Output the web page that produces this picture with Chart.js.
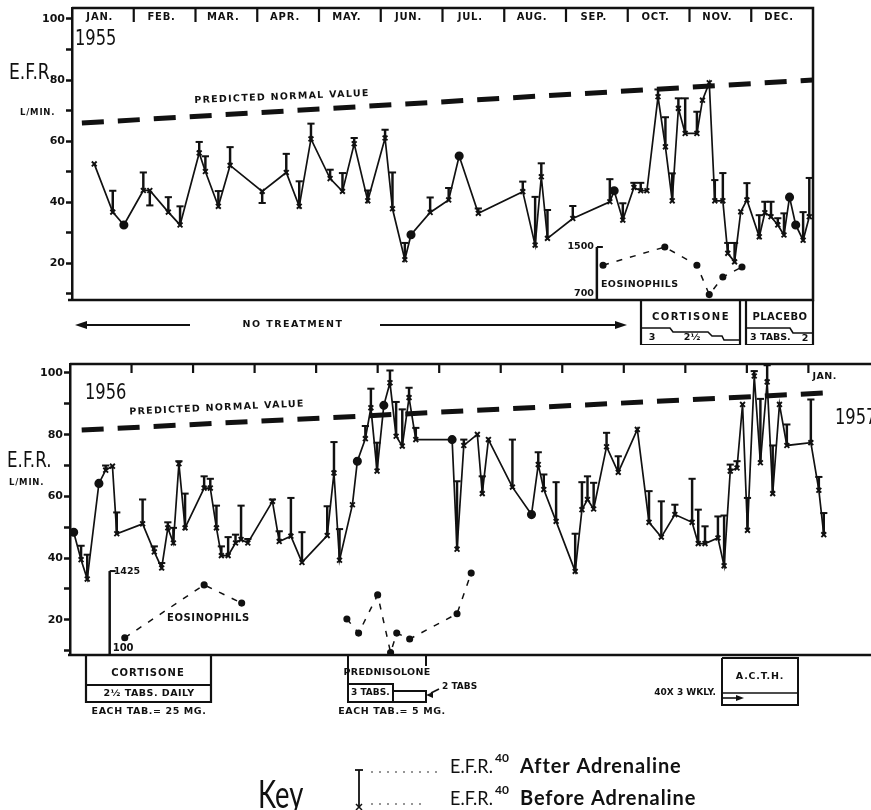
<!DOCTYPE html>
<html>
<head>
<meta charset="utf-8">
<script src="https://cdn.jsdelivr.net/npm/chart.js@4.4.0/dist/chart.umd.min.js"></script>
<style>
  html, body { margin: 0; padding: 0; background: #fff; }
  #wrap { position: relative; width: 871px; height: 810px; overflow: hidden; }
  canvas { position: absolute; left: 0; }
  #c55 { top: 0; }
  #c56 { top: 345px; }
</style>
</head>
<body>
<div id="wrap">
  <canvas id="c55" width="871" height="345"></canvas>
  <canvas id="c56" width="871" height="465"></canvas>
</div>
<script>
// --- data (x = months from 1 Jan of the panel's year, y = E.F.R. l/min) ---
const monthNames = ['JAN.', 'FEB.', 'MAR.', 'APR.', 'MAY.', 'JUN.', 'JUL.', 'AUG.', 'SEP.', 'OCT.', 'NOV.', 'DEC.'];
const efrTicks = [10, 20, 30, 40, 50, 60, 70, 80, 90, 100];

// 1955
const months55 = [0.36, 0.66, 0.84, 1.155, 1.26, 1.56, 1.75, 2.06, 2.16, 2.37, 2.56, 3.08, 3.47, 3.68, 3.87, 4.18, 4.38, 4.57, 4.79, 5.07,
  5.19, 5.39, 5.49, 5.80, 6.10, 6.27, 6.58, 7.30, 7.50, 7.60, 7.70, 8.11, 8.71, 8.78, 8.92, 9.10, 9.21, 9.31, 9.49, 9.61,
  9.72, 9.82, 9.93, 10.12, 10.21, 10.32, 10.41, 10.54, 10.62, 10.73, 10.83, 10.93, 11.13, 11.22, 11.32, 11.43, 11.53, 11.62, 11.72, 11.84, 11.94];
const before55 = [52.5, 36.7, 32.5, 43.8, 43.8, 36.7, 32.5, 56.1, 50, 38.6, 52, 43.5, 49.7, 38.6, 60.7, 47.7, 43.5, 59.1, 40.4, 61,
  37.8, 21.1, 29.3, 36.6, 40.7, 55.1, 36.3, 43.4, 25.9, 48.3, 28.1, 34.6, 40.1, 43.7, 34.1, 44.8, 43.7, 43.7, 74.5, 58.1,
  40.4, 70.7, 62.5, 62.5, 73.4, 79.1, 40.4, 40.4, 23.2, 20.4, 36.8, 40.7, 28.6, 36.5, 35.2, 32.5, 29.2, 41.6, 32.5, 27.5, 35.2];
const after55 = [null, 43.7, null, 49.7, 38.9, 41.6, 38.6, 59.7, 55, 43.6, 58, 39.7, 55.8, 46.8, 65.7, 50.6, 49.5, 61, 43.8, 63.7,
  49.7, 26.6, null, 41.5, 44.6, null, 37.9, 46.7, 41.7, 52.7, 37.4, 38.7, 47.5, null, 39.6, 46.3, 46.3, null, 76.9, 67.8,
  49.4, 74, 74, 69.6, null, null, 47.2, 49.5, 26.6, 26.6, null, 46.2, 35.7, 40.1, 40.1, 34.7, 36.3, null, null, 36.7, 47.9];
const dots55 = [2, 22, 25, 33, 57, 58];
const normMonths55 = [0.16, 12];
const norm55 = [65.9, 80];
const eosMonths55 = [8.60, 9.60, 10.12, 10.32, 10.54, 10.85];
const eos55 = [1190, 1500, 1190, 690, 990, 1160];

// 1956
const months56 = [0.06, 0.18, 0.28, 0.47, 0.58, 0.69, 0.76, 1.18, 1.37, 1.49, 1.59, 1.68, 1.77, 1.87, 2.18, 2.28, 2.38, 2.46, 2.57, 2.69,
  2.78, 2.89, 3.29, 3.40, 3.59, 3.77, 4.18, 4.29, 4.38, 4.59, 4.67, 4.80, 4.89, 4.99, 5.10, 5.20, 5.30, 5.40, 5.51, 5.62,
  6.21, 6.29, 6.40, 6.62, 6.70, 6.80, 7.19, 7.50, 7.61, 7.70, 7.90, 8.21, 8.32, 8.41, 8.51, 8.72, 8.91, 9.22, 9.41, 9.61,
  9.83, 10.11, 10.21, 10.32, 10.53, 10.63, 10.73, 10.84, 10.93, 11.01, 11.12, 11.22, 11.33, 11.42, 11.53, 11.65, 12.04, 12.17, 12.25];
const before56 = [48.4, 39.5, 33.2, 64.2, 68.5, 69.8, 47.9, 51.1, 42.0, 36.8, 49.8, 44.9, 70.6, 49.8, 62.7, 62.7, 49.8, 40.8, 40.8, 44.9,
  46.0, 44.9, 58.4, 45.4, 47.1, 38.6, 47.3, 67.6, 39.3, 57.3, 71.4, 78.7, 88.7, 68.2, 89.5, 96.8, 79.5, 76.3, 92.0, 78.4,
  78.4, 42.9, 76.5, 80.1, 60.9, 78.4, 63, 54.1, 70.3, 62.2, 51.9, 35.7, 55.7, 59, 55.9, 76.1, 67.8, 81.7, 51.6, 46.8,
  54.1, 51.6, 44.7, 44.7, 46.5, 37.5, 68.2, 69.2, 89.8, 49, 99, 70.9, 97.1, 60.9, 89.8, 76.5, 77.4, 62, 47.6];
const after56 = [null, 44.0, 41.1, null, 70, null, 54.8, 59, 43.8, 38.4, 51.6, 49.8, 71.4, 60.9, 66.5, 65.7, 57, 43.8, 46.8, 47.6,
  57, 46.2, 59, 48.7, 59.5, 48.4, 56.8, 77.6, 49.4, null, null, 82.8, 94.9, 77.4, null, 100.8, 90.6, 88.2, 95.2, 82.2,
  null, 64.9, 78.4, null, 66.5, null, 78.4, null, 74.3, 67.1, 64.6, 47.9, 64.6, 66.5, 64.4, 80.6, 73, null, 61.7, 58.4,
  57.3, 65.7, 55.7, 50.3, 53.5, 53.8, 70.3, 71.4, null, 59.5, 100.6, 91.6, 102.5, 76.5, null, 83.3, 91.4, 66.3, 54.6];
const dots56 = [0, 3, 30, 34, 40, 47];
const normMonths56 = [0.19, 12.45];
const norm56 = [81.5, 93.7];
const eosMonths56a = [0.89, 2.18, 2.79];
const eos56a = [290, 1190, 880];
const eosMonths56b = [4.50, 4.69, 5.00, 5.21, 5.31, 5.52, 6.29, 6.52];
const eos56b = [610, 370, 1020, 40, 370, 270, 700, 1390];

const ink = '#111';
const bold = (s) => `bold ${s}px "DejaVu Sans"`;

// --- drawing helpers ---
function path(ctx, pts, w) {
  ctx.lineWidth = w;
  ctx.beginPath();
  pts.forEach(([px, py], i) => (i ? ctx.lineTo(px, py) : ctx.moveTo(px, py)));
  ctx.stroke();
}

function write(ctx, s, px, py, font, align = 'center', opt = {}) {
  ctx.save();
  ctx.translate(px, py);
  if (opt.rot) ctx.rotate(opt.rot * Math.PI / 180);
  ctx.scale(opt.sx || 1, 1);
  ctx.font = font;
  ctx.letterSpacing = (opt.ls || 0) + 'px';
  ctx.textAlign = align;
  ctx.textBaseline = opt.base || 'middle';
  ctx.fillText(s, 0, 0);
  ctx.restore();
}

function head(ctx, px, py, dir, len = 12, half = 4) {
  ctx.beginPath();
  ctx.moveTo(px, py);
  ctx.lineTo(px - dir * len, py - half);
  ctx.lineTo(px - dir * len, py + half);
  ctx.closePath();
  ctx.fill();
}

function eosAxis(ctx, x, ye, m, hi, bottom) {
  const px = x.getPixelForValue(m);
  const top = ye.getPixelForValue(hi);
  path(ctx, [[px, top], [px, bottom]], 2.5);
  path(ctx, [[px, top], [px + 6, top]], 2);
  return px;
}

// --- decorations for 1955 panel ---
const deco55 = {
  id: 'deco55',
  afterDraw(chart) {
    const { ctx, chartArea: a, scales } = chart;
    const x = scales.x, ye = scales.yEos;
    ctx.save();
    ctx.strokeStyle = ink;
    ctx.fillStyle = ink;
    path(ctx, [[a.left, a.top], [a.right, a.top], [a.right, a.bottom], [a.left - 4, a.bottom]], 2.5);
    for (let m = 1; m < 12; m++) {
      const px = x.getPixelForValue(m);
      path(ctx, [[px, a.top], [px, a.top + 14]], 2.2);
    }
    monthNames.forEach((n, i) => write(ctx, n, x.getPixelForValue(i + 0.45), a.top + 9, bold(10), 'center', { ls: 0.8 }));

    write(ctx, '1955', 75, 39, '22px "DejaVu Sans"', 'left', { sx: 0.74 });
    write(ctx, 'E.F.R.', 9, 73, '22px "DejaVu Sans"', 'left', { sx: 0.78 });
    write(ctx, 'L/MIN.', 20, 113, bold(8.5), 'left', { ls: 0.8 });
    write(ctx, 'PREDICTED NORMAL VALUE', 282, 97, bold(9.5), 'center', { ls: 1.3, rot: -2.3 });

    const ex = eosAxis(ctx, x, ye, 8.5, 1500, a.bottom);
    write(ctx, '1500', ex - 3, ye.getPixelForValue(1500), bold(9.5), 'right');
    write(ctx, '700', ex - 3, ye.getPixelForValue(700), bold(9.5), 'right');
    write(ctx, 'EOSINOPHILS', ex + 4, 285, bold(9.5), 'left', { ls: 0.5 });

    // no treatment arrow
    path(ctx, [[80, 325], [190, 325]], 2.2);
    path(ctx, [[380, 325], [618, 325]], 2.2);
    head(ctx, 75, 325, -1);
    head(ctx, 627, 325, 1);
    write(ctx, 'NO TREATMENT', 293, 325, bold(9.5), 'center', { ls: 1.5 });

    // cortisone box
    path(ctx, [[641, a.bottom], [641, 345], [740, 345], [740, a.bottom]], 2.2);
    write(ctx, 'CORTISONE', 691, 317, bold(10), 'center', { ls: 1.5 });
    path(ctx, [[641, 328], [670, 328], [673, 332], [708, 332], [712, 336], [722, 336], [724, 340], [740, 340]], 1.6);
    write(ctx, '3', 652, 338, bold(9.5), 'center');
    write(ctx, '2½', 692, 338, bold(9.5), 'center');

    // placebo box
    path(ctx, [[746, a.bottom], [746, 345], [813, 345], [813, a.bottom]], 2.2);
    write(ctx, 'PLACEBO', 780, 317, bold(10), 'center', { ls: 0.5 });
    path(ctx, [[746, 328], [790, 328], [793, 333], [813, 333]], 1.6);
    write(ctx, '3 TABS.', 750, 338, bold(9.5), 'left');
    write(ctx, '2', 805, 339, bold(9.5), 'center');
    ctx.restore();
  }
};

// --- decorations for 1956 panel ---
const deco56 = {
  id: 'deco56',
  afterDraw(chart) {
    const { ctx, chartArea: a, scales } = chart;
    const x = scales.x, ye = scales.yEos;
    ctx.save();
    ctx.strokeStyle = ink;
    ctx.fillStyle = ink;
    path(ctx, [[a.left, a.top], [chart.width, a.top]], 2.5);
    path(ctx, [[a.left - 2, a.bottom], [chart.width, a.bottom]], 2.5);
    for (let m = 1; m <= 12; m++) {
      const px = x.getPixelForValue(m);
      path(ctx, [[px, a.top], [px, a.top + 9]], 2.2);
    }
    write(ctx, 'JAN.', x.getPixelForValue(12) + 4, 32, bold(9.5), 'left', { ls: 0.5 });

    write(ctx, '1956', 85, 48, '22px "DejaVu Sans"', 'left', { sx: 0.74 });
    write(ctx, '1957', 835, 73, '22px "DejaVu Sans"', 'left', { sx: 0.74 });
    write(ctx, 'E.F.R.', 7, 116, '22px "DejaVu Sans"', 'left', { sx: 0.76 });
    write(ctx, 'L/MIN.', 9, 138, bold(8.5), 'left', { ls: 0.8 });
    write(ctx, 'PREDICTED NORMAL VALUE', 217, 63, bold(9.5), 'center', { ls: 1.3, rot: -2.7 });

    const ex = eosAxis(ctx, x, ye, 0.645, 1425, a.bottom);
    write(ctx, '1425', ex + 4, ye.getPixelForValue(1425), bold(9.5), 'left');
    write(ctx, '100', ex + 3, ye.getPixelForValue(100) - 1, bold(10), 'left');
    write(ctx, 'EOSINOPHILS', 167, 273, bold(10), 'left', { ls: 0.6 });

    // cortisone box
    path(ctx, [[86, a.bottom], [86, 357], [211, 357], [211, a.bottom]], 2.2);
    path(ctx, [[86, 340], [211, 340]], 2);
    write(ctx, 'CORTISONE', 148, 328, bold(10), 'center', { ls: 1 });
    write(ctx, '2½ TABS. DAILY', 149, 349, bold(9.5), 'center', { ls: 0.5 });
    write(ctx, 'EACH TAB.= 25 MG.', 149, 367, bold(9.5), 'center', { ls: 0.6 });

    // prednisolone box
    path(ctx, [[348, a.bottom], [348, 357], [426, 357], [426, 346], [393, 346]], 2);
    path(ctx, [[348, 339], [393, 339], [393, 357]], 2);
    path(ctx, [[426, a.bottom], [426, 321]], 2);
    write(ctx, 'PREDNISOLONE', 387, 328, bold(9.5), 'center', { ls: 0.3 });
    write(ctx, '3 TABS.', 351, 348, bold(9), 'left');
    path(ctx, [[439, 344], [431, 348]], 1.8);
    head(ctx, 426, 350, -1, 7, 3);
    write(ctx, '2 TABS', 442, 342, bold(9), 'left');
    write(ctx, 'EACH TAB.= 5 MG.', 392, 367, bold(9.5), 'center', { ls: 0.6 });

    // a.c.t.h. box
    path(ctx, [[722, a.bottom + 3], [722, 360], [798, 360], [798, a.bottom + 3], [722, a.bottom + 3]], 2);
    path(ctx, [[722, 348], [798, 348]], 1.6);
    write(ctx, 'A.C.T.H.', 760, 332, bold(9.5), 'center', { ls: 0.8 });
    write(ctx, '40X 3 WKLY.', 716, 348, bold(9), 'right');
    path(ctx, [[722, 353], [736, 353]], 1.6);
    head(ctx, 744, 353, 1, 8, 3);

    // key
    write(ctx, 'Key', 258, 463, '38px Lato', 'left', { sx: 0.72, base: 'alphabetic' });
    path(ctx, [[359, 425], [359, 462]], 1.8);
    path(ctx, [[355, 425], [363, 425]], 1.8);
    path(ctx, [[356, 459], [362, 465]], 1.5);
    path(ctx, [[362, 459], [356, 465]], 1.5);
    for (let px = 372; px <= 437; px += 8) { ctx.beginPath(); ctx.arc(px, 427, 0.8, 0, 7); ctx.fill(); }
    for (let px = 372; px <= 420; px += 8) { ctx.beginPath(); ctx.arc(px, 459, 0.8, 0, 7); ctx.fill(); }
    [[428, 'After Adrenaline'], [460, 'Before Adrenaline']].forEach(([by, s]) => {
      write(ctx, 'E.F.R.', 450, by, '20px Lato', 'left', { sx: 0.9, base: 'alphabetic' });
      write(ctx, '40', 495, by - 11, 'bold 12px Lato', 'left', { base: 'alphabetic' });
      write(ctx, s, 520, by, 'bold 20px Lato', 'left', { base: 'alphabetic', ls: 0.9 });
    });
    ctx.restore();
  }
};

// --- one chart per year ---
function makeChart(id, d, view, deco) {
  const pts = d.months.map((m, i) => ({ x: m, y: d.before[i] }));
  const stems = [];
  const caps = [];
  d.months.forEach((m, i) => {
    if (d.after[i] === null) return;
    stems.push({ x: m, y: [d.before[i], d.after[i]] });
    caps.push({ x: m, y: d.after[i] });
  });
  const eosSets = d.eos.map(e => ({
    type: 'line',
    yAxisID: 'yEos',
    data: e.months.map((m, i) => ({ x: m, y: e.values[i] })),
    borderColor: ink,
    borderWidth: 1.5,
    borderDash: [6, 8],
    pointRadius: 2.8,
    pointBackgroundColor: ink,
    pointBorderColor: ink
  }));

  return new Chart(document.getElementById(id), {
    type: 'line',
    data: {
      datasets: [
        {
          data: d.normMonths.map((m, i) => ({ x: m, y: d.norm[i] })),
          borderColor: ink,
          borderWidth: 5,
          borderDash: [22, 14],
          pointRadius: 0
        },
        ...eosSets,
        {
          type: 'bar',
          data: stems,
          barThickness: 1.8,
          grouped: false,
          backgroundColor: ink,
          borderWidth: 0
        },
        {
          data: caps,
          showLine: false,
          pointStyle: 'line',
          pointRadius: 3.6,
          pointBorderWidth: 2,
          pointBorderColor: ink,
          borderColor: ink
        },
        {
          data: pts,
          borderColor: ink,
          borderWidth: 1.7,
          pointStyle: d.months.map((m, i) => (d.dots.includes(i) ? 'circle' : 'crossRot')),
          pointRadius: d.months.map((m, i) => (d.dots.includes(i) ? 3.6 : 3.4)),
          pointBorderWidth: 1.9,
          pointBackgroundColor: ink,
          pointBorderColor: ink
        }
      ]
    },
    options: {
      responsive: false,
      animation: false,
      layout: { padding: view.pad },
      plugins: { legend: { display: false }, tooltip: { enabled: false } },
      scales: {
        x: { type: 'linear', min: 0, max: view.xMax, offset: false, display: false },
        y: {
          min: view.yMin,
          max: view.yMax,
          afterBuildTicks: s => { s.ticks = efrTicks.map(v => ({ value: v })); },
          afterFit: s => { s.width = view.axisW; },
          ticks: {
            autoSkip: false,
            padding: 1,
            color: ink,
            font: { family: 'DejaVu Sans', weight: 'bold', size: 11 },
            callback: v => (v % 20 === 0 ? v : '')
          },
          grid: { drawOnChartArea: false, tickLength: 6, tickWidth: 2.5, color: ink },
          border: { color: ink, width: 2.5 }
        },
        yEos: { display: false, min: view.eosMin, max: view.eosMax }
      }
    },
    plugins: [deco]
  });
}

makeChart('c55', {
  months: months55, before: before55, after: after55, dots: dots55,
  normMonths: normMonths55, norm: norm55,
  eos: [{ months: eosMonths55, values: eos55 }]
}, { pad: { top: 8, bottom: 45, left: 0, right: 58 }, axisW: 72, xMax: 12, yMin: 7.9, yMax: 103.6, eosMin: 598, eosMax: 5568 }, deco55);

makeChart('c56', {
  months: months56, before: before56, after: after56, dots: dots56,
  normMonths: normMonths56, norm: norm56,
  eos: [{ months: eosMonths56a, values: eos56a }, { months: eosMonths56b, values: eos56b }]
}, { pad: { top: 19, bottom: 155, left: 0, right: 0 }, axisW: 70, xMax: 12.92, yMin: 8.6, yMax: 102.9, eosMin: -2, eosMax: 4945 }, deco56);
</script>
</body>
</html>
